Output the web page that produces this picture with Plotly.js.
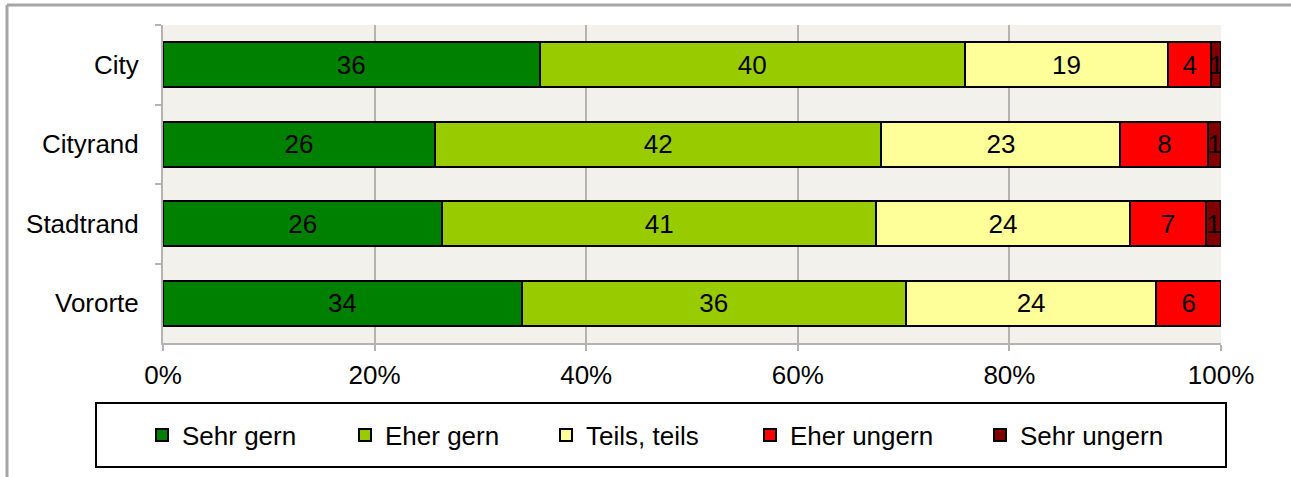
<!DOCTYPE html>
<html>
<head>
<meta charset="utf-8">
<script src="https://cdn.plot.ly/plotly-3.0.1.min.js"></script>
<style>
  html, body { margin: 0; padding: 0; background: #ffffff; }
  #chart { width: 1291px; height: 477px; }
</style>
</head>
<body>
<div id="chart"></div>
<script>
// Categories (top to bottom)
var categories = ["City", "Cityrand", "Stadtrand", "Vororte"];

// Series names
var seriesNames = ["Sehr gern", "Eher gern", "Teils, teils", "Eher ungern", "Sehr ungern"];

// Series values (percent)
var sehrGern   = [35.6, 25.7, 26.4, 33.9];
var eherGern   = [40.2, 42.2, 41.0, 36.3];
var teilsTeils = [19.2, 22.6, 24.0, 23.7];
var eherUngern = [4.1, 8.3, 7.2, 6.1];
var sehrUngern = [0.9, 1.2, 1.4, null];

// X axis tick values
var xTicks = [0, 20, 40, 60, 80, 100];

var seriesValues = [sehrGern, eherGern, teilsTeils, eherUngern, sehrUngern];
var colors = ["#008000", "#99cc00", "#ffff99", "#ff0000", "#800000"];
var legendWidths = [158, 156, 159, 185, 150];

var FONT = "Liberation Sans, Arial, sans-serif";
var FS = 26;

var traces = seriesValues.map(function (vals, i) {
  return {
    type: "bar",
    orientation: "h",
    name: seriesNames[i],
    y: categories,
    x: vals,
    marker: { color: colors[i], line: { color: "#000000", width: 2 } },
    texttemplate: "%{x:.0f}",
    textposition: "inside",
    insidetextanchor: "middle",
    textangle: 0,
    textfont: { family: FONT, size: FS, color: "#000000" },
    constraintext: "none",
    legendwidth: legendWidths[i],
    hoverinfo: "x+y+name"
  };
});

// plot area: x 163..1221, y 25..343
var L = 163, R = 1221, T = 25, B = 343;
function px(x) { return (x - L) / (R - L); }
function py(y) { return (B - y) / (B - T); }

var layout = {
  width: 1291,
  height: 477,
  barmode: "stack",
  bargap: 0.43,
  paper_bgcolor: "#ffffff",
  plot_bgcolor: "#f2f1eb",
  margin: { l: L, r: 1291 - R, t: T, b: 477 - B, pad: 0 },
  font: { family: FONT, size: FS, color: "#000000" },
  uniformtext: { mode: "show", minsize: FS },
  xaxis: {
    range: [0, 100],
    tickvals: xTicks,
    ticktext: xTicks.map(function (v) { return v + "%"; }),
    showgrid: true,
    gridcolor: "#b3b3b3",
    gridwidth: 2,
    zeroline: false,
    showline: true,
    linecolor: "#b3b3b3",
    linewidth: 2,
    ticks: "outside",
    ticklen: 6,
    tickwidth: 2,
    tickcolor: "#b3b3b3",
    ticklabelstandoff: 2,
    tickfont: { family: FONT, size: FS, color: "#000000" },
    fixedrange: true
  },
  yaxis: {
    type: "category",
    categoryorder: "array",
    categoryarray: categories,
    autorange: "reversed",
    showgrid: false,
    zeroline: false,
    showline: true,
    linecolor: "#b3b3b3",
    linewidth: 2,
    ticks: "outside",
    tickson: "boundaries",
    ticklen: 6,
    tickwidth: 2,
    tickcolor: "#b3b3b3",
    ticklabelstandoff: 17,
    tickfont: { family: FONT, size: FS, color: "#000000" },
    fixedrange: true
  },
  showlegend: true,
  legend: {
    orientation: "h",
    x: px(142),
    xanchor: "left",
    y: py(435),
    yanchor: "middle",
    bgcolor: "rgba(0,0,0,0)",
    borderwidth: 0,
    font: { family: FONT, size: FS, color: "#000000" },
    traceorder: "normal"
  },
  shapes: [
    // outer chart frame (top and left edges visible)
    { type: "line", xref: "paper", yref: "paper", x0: px(7), x1: px(1300), y0: py(5), y1: py(5),
      line: { color: "#a6a6a6", width: 3 } },
    { type: "line", xref: "paper", yref: "paper", x0: px(7), x1: px(7), y0: py(5), y1: py(490),
      line: { color: "#a6a6a6", width: 3 } },
    // legend box
    { type: "rect", xref: "paper", yref: "paper", x0: px(96), x1: px(1226), y0: py(403), y1: py(467),
      line: { color: "#000000", width: 2 }, fillcolor: "rgba(0,0,0,0)" }
  ]
};

Plotly.newPlot("chart", traces, layout, { displayModeBar: false, staticPlot: true });
</script>
</body>
</html>
